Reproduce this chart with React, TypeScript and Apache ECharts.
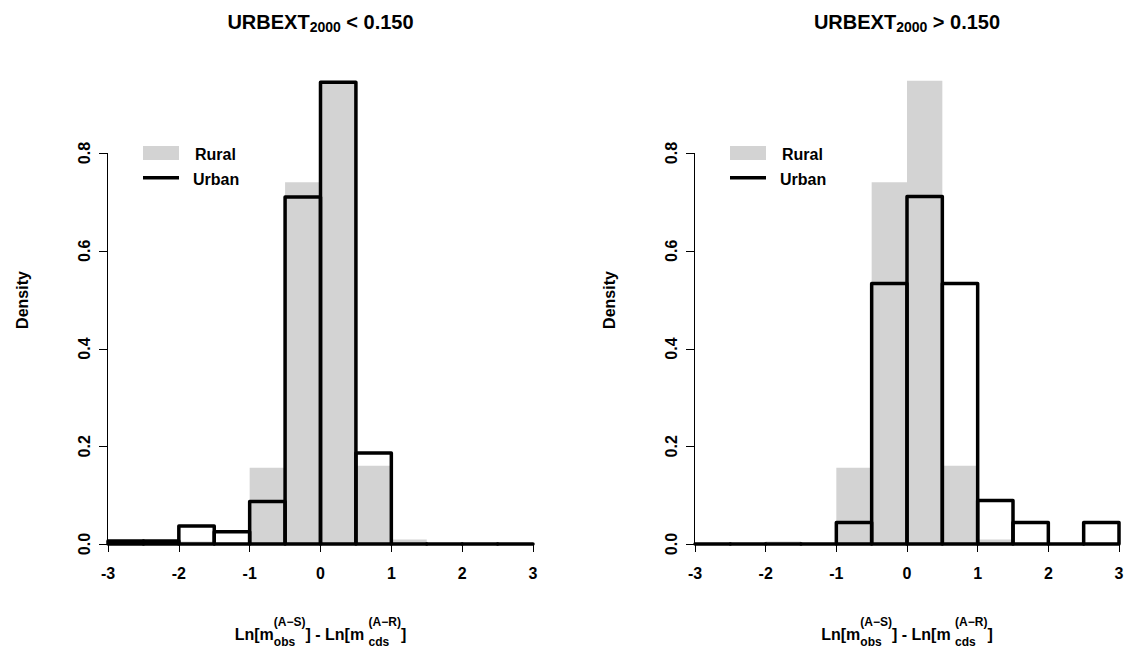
import React, { useEffect, useRef } from 'react';
import * as echarts from 'echarts';

// Histogram bin edges (width 0.5)
const breaks = [-3, -2.5, -2, -1.5, -1, -0.5, 0, 0.5, 1, 1.5, 2, 2.5, 3];
// Density values per bin
const rural = [0, 0, 0.005, 0, 0.156, 0.74, 0.948, 0.16, 0.009, 0, 0, 0];
const urbanLow = [0.006, 0.006, 0.037, 0.025, 0.087, 0.71, 0.945, 0.186, 0, 0, 0, 0];
const urbanHigh = [0, 0, 0, 0, 0.044, 0.533, 0.711, 0.533, 0.089, 0.044, 0, 0.044];
const xTicks = [-3, -2, -1, 0, 1, 2, 3];
const yTicks = [0, 0.2, 0.4, 0.6, 0.8];
const titleRest = [' < 0.150', ' > 0.150'];
const legendLabels = ['Rural', 'Urban'];
const yName = 'Density';

const FONT = '"Liberation Sans", Arial, Helvetica, sans-serif';
const GRAY = '#d3d3d3';

const panels = [
  { left: 108, width: 425 },
  { left: 695, width: 424 },
];
const TOP_08 = 153; // pixel row of the 0.8 tick
const BOTTOM_Y = 544;
const TICK_LEN = 8;

function measure(s: string, size: number): number {
  const c = document.createElement('canvas').getContext('2d');
  if (!c) return s.length * size * 0.6;
  c.font = `bold ${size}px "Liberation Sans"`;
  return c.measureText(s).width;
}

function xLabelElements(cx: number): any[] {
  const big = 16;
  const small = 12;
  const mainY = 634;
  const supY = 622;
  const subY = 642;
  const p1 = 'Ln[m';
  const sup1 = '(A\u2212S)';
  const sub1 = 'obs';
  const p3 = '] - Ln[m ';
  const sup2 = '(A\u2212R)';
  const sub2 = 'cds';
  const p5 = ']';
  const w1 = measure(p1, big);
  const s1 = Math.max(measure(sup1, small), measure(sub1, small));
  const w3 = measure(p3, big);
  const s2 = Math.max(measure(sup2, small), measure(sub2, small));
  const w5 = measure(p5, big);
  const total = w1 + s1 + w3 + s2 + w5;
  let x = cx - total / 2;
  const els: any[] = [];
  const t = (text: string, xx: number, yy: number, size: number) => ({
    type: 'text',
    x: xx,
    y: yy,
    silent: true,
    style: {
      text,
      fontSize: size,
      fontWeight: 'bold',
      fontFamily: FONT,
      fill: '#000',
      align: 'left',
      verticalAlign: 'middle',
    },
  });
  els.push(t(p1, x, mainY, big));
  x += w1;
  els.push(t(sup1, x, supY, small));
  els.push(t(sub1, x, subY, small));
  x += s1;
  els.push(t(p3, x, mainY, big));
  x += w3;
  els.push(t(sup2, x, supY, small));
  els.push(t(sub2, x, subY, small));
  x += s2;
  els.push(t(p5, x, mainY, big));
  return els;
}

function legendElements(x0: number): any[] {
  return [
    { type: 'rect', silent: true, shape: { x: x0, y: 146, width: 36, height: 14 }, style: { fill: GRAY } },
    { type: 'rect', silent: true, shape: { x: x0, y: 176, width: 36, height: 3.5 }, style: { fill: '#000' } },
    {
      type: 'text', silent: true, x: x0 + 52, y: 154,
      style: { text: legendLabels[0], fontSize: 16, fontWeight: 'bold', fontFamily: FONT, fill: '#000', align: 'left', verticalAlign: 'middle' },
    },
    {
      type: 'text', silent: true, x: x0 + 50, y: 179,
      style: { text: legendLabels[1], fontSize: 16, fontWeight: 'bold', fontFamily: FONT, fill: '#000', align: 'left', verticalAlign: 'middle' },
    },
  ];
}

export default function App() {
  const ref = useRef<HTMLDivElement>(null);
  useEffect(() => {
    if (!ref.current) return;
    const chart = echarts.init(ref.current, undefined, { renderer: 'svg' });
    const urbanSets = [urbanLow, urbanHigh];

    const grids = panels.map((p) => ({
      left: p.left,
      width: p.width,
      top: TOP_08,
      height: BOTTOM_Y - TOP_08,
      containLabel: false,
      outerBoundsMode: 'none',
    }));

    const xAxes = panels.map((_, i) => ({
      type: 'value',
      gridIndex: i,
      min: xTicks[0],
      max: xTicks[xTicks.length - 1],
      interval: 1,
      splitLine: { show: false },
      axisLine: { show: true, onZero: false, lineStyle: { color: '#000', width: 1 } },
      axisTick: { show: true, length: TICK_LEN, lineStyle: { color: '#000', width: 1 } },
      axisLabel: {
        color: '#000', fontSize: 16, fontWeight: 'bold', fontFamily: FONT, margin: 21,
        formatter: (v: number) => String(v),
      },
    }));

    const yAxes = panels.map((_, i) => ({
      type: 'value',
      gridIndex: i,
      min: yTicks[0],
      max: yTicks[yTicks.length - 1],
      interval: 0.2,
      splitLine: { show: false },
      axisLine: { show: false, onZero: false },
      axisTick: { show: false },
      axisLabel: {
        color: '#000', fontSize: 16, fontWeight: 'bold', fontFamily: FONT, margin: 16, rotate: 90,
        formatter: (v: number) => v.toFixed(1),
      },
    }));

    const series: any[] = [];
    panels.forEach((_, i) => {
      series.push({
        type: 'custom',
        xAxisIndex: i,
        yAxisIndex: i,
        z: 2,
        silent: true,
        clip: false,
        encode: { x: [0, 1], y: 2 },
        data: rural.map((v, k) => [breaks[k], breaks[k + 1], v]),
        renderItem: (params: any, api: any) => {
          const a = api.coord([api.value(0), api.value(2)]);
          const b = api.coord([api.value(1), 0]);
          return {
            type: 'rect',
            shape: { x: a[0], y: a[1], width: b[0] - a[0], height: b[1] - a[1] },
            style: { fill: GRAY, stroke: null },
          };
        },
      });
      series.push({
        type: 'custom',
        xAxisIndex: i,
        yAxisIndex: i,
        z: 3,
        silent: true,
        clip: false,
        encode: { x: [0, 1], y: 2 },
        data: urbanSets[i].map((v, k) => [breaks[k], breaks[k + 1], v]),
        renderItem: (params: any, api: any) => {
          const a = api.coord([api.value(0), api.value(2)]);
          const b = api.coord([api.value(1), 0]);
          return {
            type: 'polygon',
            shape: { points: [[a[0], b[1]], [a[0], a[1]], [b[0], a[1]], [b[0], b[1]]] },
            style: { fill: 'none', stroke: '#000', lineWidth: 3.5, lineJoin: 'round' },
          };
        },
      });
      // R-style y axis drawn as thin filled bars: one spanning first..last tick, and outward ticks
      series.push({
        type: 'custom',
        xAxisIndex: i,
        yAxisIndex: i,
        z: 5,
        silent: true,
        clip: false,
        encode: { x: 0, y: 1 },
        data: yTicks.map((v) => [xTicks[0], v]),
        renderItem: (params: any, api: any) => {
          const p = api.coord([api.value(0), api.value(1)]);
          const x = Math.round(p[0]);
          const y = Math.round(p[1]);
          const children: any[] = [
            { type: 'rect', shape: { x: x - TICK_LEN - 1, y, width: TICK_LEN + 1, height: 1 }, style: { fill: '#000' } },
          ];
          if (params.dataIndex === 0) {
            const top = api.coord([api.value(0), yTicks[yTicks.length - 1]]);
            const ty = Math.round(top[1]);
            children.push({ type: 'rect', shape: { x: x - 1, y: ty, width: 1, height: y - ty + 1 }, style: { fill: '#000' } });
          }
          return { type: 'group', children };
        },
      });
    });

    const titles = panels.map((p, i) => ({
      text: `{a|URBEXT}{b|2000}{a|${titleRest[i]}}`,
      left: p.left + p.width / 2,
      top: 9,
      padding: 0,
      textAlign: 'center',
      textStyle: {
        rich: {
          a: { fontSize: 20, fontWeight: 'bold', fontFamily: FONT, color: '#000', lineHeight: 25, verticalAlign: 'middle' },
          b: { fontSize: 14, fontWeight: 'bold', fontFamily: FONT, color: '#000', lineHeight: 13, verticalAlign: 'bottom' },
        },
      },
    }));

    const graphic: any[] = [];
    panels.forEach((p) => {
      graphic.push(...xLabelElements(p.left + p.width / 2));
      graphic.push({
        type: 'text',
        silent: true,
        x: p.left - 86,
        y: 300,
        rotation: Math.PI / 2,
        style: {
          text: yName, fontSize: 16, fontWeight: 'bold', fontFamily: FONT, fill: '#000',
          align: 'center', verticalAlign: 'middle',
        },
      });
    });
    graphic.push(...legendElements(143));
    graphic.push(...legendElements(730));

    chart.setOption({
      animation: false,
      backgroundColor: '#fff',
      title: titles,
      grid: grids,
      xAxis: xAxes,
      yAxis: yAxes,
      series,
      graphic,
    });

    return () => chart.dispose();
  }, []);
  return (
    <div
      ref={ref}
      style={{ position: 'absolute', left: 0, top: 0, width: 1132, height: 655, background: '#fff' }}
    />
  );
}
